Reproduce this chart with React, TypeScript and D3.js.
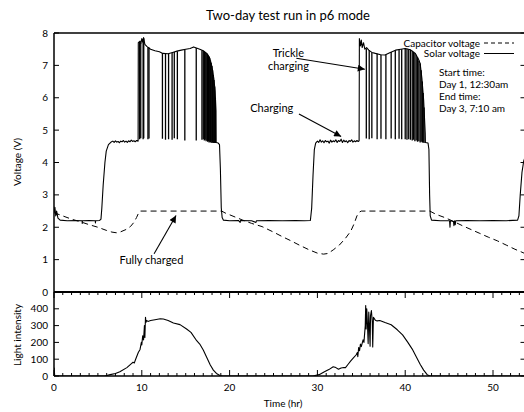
import React from "react";
import * as d3 from "d3";

// ---------- DATA ----------
const title = "Two-day test run in p6 mode";
const timeDomain: [number, number] = [0, 53.7];
const voltageTicks = [0, 1, 2, 3, 4, 5, 6, 7, 8];
const lightTicks = [0, 100, 200, 300, 400];
const timeMajorTicks = [0, 10, 20, 30, 40, 50];
const timeMinorTicks = d3.range(0, 54, 1);

// Solar voltage [hr, V]
const solarVoltage: [number, number][] = [
  [0, 2.45], [0.1, 2.62], [0.2, 2.35], [0.3, 2.5], [0.45, 2.28], [0.7, 2.22], [1.5, 2.2], [2.5, 2.21],
  [3.2, 2.2], [3.22, 2.12], [3.24, 2.2], [4.0, 2.21], [4.7, 2.2], [4.72, 2.13], [4.74, 2.2], [5.2, 2.21],
  [5.35, 2.25], [5.45, 2.6], [5.6, 3.3], [5.8, 4.0], [5.95, 4.35], [6.2, 4.55],
  [6.5, 4.63], [6.7, 4.66], [6.85, 4.62], [7.0, 4.67], [7.15, 4.63], [7.3, 4.65], [7.45, 4.61], [7.6, 4.66],
  [7.75, 4.64], [7.9, 4.68], [8.05, 4.63], [8.2, 4.66], [8.35, 4.62], [8.5, 4.67], [8.65, 4.64], [8.8, 4.69],
  [8.95, 4.65], [9.1, 4.67], [9.25, 4.64], [9.4, 4.68], [9.58, 4.66],
  [9.6, 7.7], [9.8, 7.75], [9.9, 7.68], [10.0, 7.83], [10.1, 7.72], [10.2, 7.86], [10.35, 7.65], [10.6, 7.58],
  [11.0, 7.5], [11.5, 7.45], [12.0, 7.42], [12.4, 7.37], [13.0, 7.36], [13.5, 7.4], [14.0, 7.44], [14.5, 7.47],
  [15.0, 7.5], [15.5, 7.52], [15.9, 7.57], [16.3, 7.53], [16.6, 7.5], [17.0, 7.45], [17.4, 7.37], [17.7, 7.25],
  [18.0, 6.95], [18.2, 6.6], [18.35, 6.2], [18.45, 5.6], [18.47, 4.62], [18.7, 4.6], [18.85, 4.55],
  [18.95, 3.8], [19.05, 2.6], [19.15, 2.3], [19.3, 2.22], [20.0, 2.2], [21.0, 2.21], [21.2, 2.15], [21.25, 2.21],
  [22.5, 2.2], [23.0, 2.15], [23.05, 2.2], [24.5, 2.21], [26.0, 2.2], [27.5, 2.21], [28.5, 2.2], [29.2, 2.21],
  [29.35, 2.6], [29.5, 3.6], [29.65, 4.4],
  [29.8, 4.6], [30.0, 4.66], [30.15, 4.62], [30.3, 4.7], [30.45, 4.63], [30.6, 4.67], [30.75, 4.61], [30.9, 4.68],
  [31.05, 4.64], [31.2, 4.66], [31.35, 4.6], [31.5, 4.69], [31.65, 4.63], [31.8, 4.67], [31.95, 4.64], [32.1, 4.7],
  [32.25, 4.62], [32.4, 4.68], [32.55, 4.65], [32.7, 4.72], [32.85, 4.62], [33.0, 4.69], [33.15, 4.64], [33.3, 4.67],
  [33.45, 4.61], [33.6, 4.68], [33.75, 4.65], [33.9, 4.7], [34.05, 4.63], [34.2, 4.67], [34.35, 4.64], [34.5, 4.68],
  [34.65, 4.65], [34.75, 4.67],
  [34.78, 7.83], [34.9, 7.6], [35.0, 7.78], [35.1, 7.55], [35.25, 7.7], [35.4, 7.5], [35.6, 7.55], [35.85, 7.47],
  [36.2, 7.4], [36.6, 7.37], [37.2, 7.33], [37.7, 7.32], [38.3, 7.4], [38.9, 7.47], [39.5, 7.5], [40.0, 7.52],
  [40.6, 7.48], [41.15, 7.37], [41.5, 7.2], [41.7, 7.06], [41.9, 6.6], [42.1, 5.93], [42.28, 4.9], [42.3, 4.62],
  [42.6, 4.6], [42.7, 4.4], [42.78, 3.0], [42.85, 2.35], [43.0, 2.22], [44.0, 2.2], [45.05, 2.2], [45.1, 2.0],
  [45.15, 2.2], [45.5, 2.18], [45.55, 2.05], [45.6, 2.2], [45.7, 2.08], [45.75, 2.2], [47.0, 2.21], [48.5, 2.2],
  [50.0, 2.21], [51.5, 2.2], [52.8, 2.22], [52.95, 2.35], [53.1, 3.0], [53.3, 3.7], [53.5, 4.05], [53.7, 4.2],
];

// Trickle-charging dropouts [hr, top V, bottom V]
const trickleDrops: [number, number, number][] = [
  [9.75, 7.72, 4.72], [9.88, 7.7, 4.75], [10.15, 7.8, 4.72], [10.22, 7.84, 4.75], [10.7, 7.56, 4.72],
  [10.82, 7.55, 4.74], [12.35, 7.38, 4.73], [12.7, 7.37, 4.7], [13.05, 7.36, 4.72], [13.45, 7.39, 4.7],
  [13.7, 7.41, 4.75], [14.05, 7.44, 4.72], [14.9, 7.49, 4.68], [16.2, 7.54, 4.68], [16.85, 7.47, 4.7],
  [17.0, 7.45, 4.72], [17.12, 7.43, 4.68], [17.22, 7.41, 4.7], [17.32, 7.38, 4.66], [17.42, 7.36, 4.68],
  [17.5, 7.33, 4.64], [17.58, 7.3, 4.66], [17.66, 7.27, 4.62], [17.74, 7.22, 4.64], [17.82, 7.15, 4.62],
  [17.9, 7.08, 4.64], [17.98, 6.98, 4.6], [18.06, 6.85, 4.62], [18.14, 6.7, 4.6], [18.22, 6.55, 4.62],
  [18.3, 6.35, 4.6], [18.38, 6.0, 4.6],
  [35.57, 7.52, 4.74], [35.9, 7.47, 4.72], [36.2, 7.4, 4.75], [36.8, 7.36, 4.72], [37.24, 7.33, 4.73],
  [37.8, 7.33, 4.72], [38.4, 7.41, 4.74], [38.87, 7.47, 4.72], [39.3, 7.49, 4.73], [39.6, 7.5, 4.72],
  [40.0, 7.52, 4.72], [40.2, 7.51, 4.7], [40.4, 7.5, 4.72], [40.6, 7.48, 4.7], [40.8, 7.45, 4.68],
  [40.95, 7.42, 4.7], [41.1, 7.38, 4.66], [41.25, 7.33, 4.68], [41.4, 7.25, 4.64], [41.55, 7.15, 4.66],
  [41.7, 7.06, 4.62], [41.82, 6.85, 4.64], [41.95, 6.5, 4.62], [42.05, 6.15, 4.62], [42.15, 5.7, 4.6],
];

// Capacitor voltage [hr, V]
const capacitorVoltage: [number, number][] = [
  [0, 2.45], [1, 2.35], [2, 2.25], [3, 2.17], [4, 2.08], [5, 2.0], [6, 1.9], [6.6, 1.85], [7.1, 1.83],
  [7.6, 1.86], [8.2, 1.93], [8.7, 2.02], [9.1, 2.15], [9.4, 2.3], [9.6, 2.42], [9.8, 2.5], [19.1, 2.5],
  [19.5, 2.44], [20.5, 2.33], [21.5, 2.22], [22.5, 2.12], [23.7, 2.02], [25, 1.85], [26, 1.71], [27, 1.58],
  [28, 1.44], [29, 1.31], [30, 1.2], [30.7, 1.17], [31.2, 1.19], [31.8, 1.3], [32.5, 1.45], [33.2, 1.66],
  [33.8, 1.88], [34.2, 2.12], [34.5, 2.35], [34.8, 2.47], [35.0, 2.5], [42.8, 2.5], [43.5, 2.4], [44.5, 2.3],
  [45.5, 2.18], [46.5, 2.05], [47.5, 1.93], [48.5, 1.81], [49.5, 1.69], [50.5, 1.58], [51.5, 1.45],
  [52.5, 1.32], [53.2, 1.24], [53.7, 1.18],
];

// Light intensity [hr, value]
const lightIntensity: [number, number][] = [
  [0, 0], [0.02, 48], [0.08, 0], [5.8, 0], [6.4, 8], [7, 15], [7.5, 25], [8.3, 50], [8.85, 75], [9.0, 82],
  [9.15, 78], [9.3, 100], [9.6, 140], [9.8, 158], [9.95, 200], [10.0, 185], [10.1, 240], [10.2, 215],
  [10.3, 300], [10.35, 230], [10.42, 350], [10.48, 320], [10.55, 330], [10.7, 325], [11.0, 330], [11.5, 335],
  [12.1, 341], [12.45, 339], [13.0, 330], [13.6, 315], [14.35, 306], [15.1, 280], [15.6, 260], [16.25, 210],
  [16.6, 190], [17.0, 155], [17.4, 110], [17.8, 65], [18.15, 35], [18.5, 15], [18.9, 3], [19.2, 0],
  [29.5, 0], [30.2, 8], [30.8, 25], [31.3, 38], [31.8, 55], [32.1, 50], [32.4, 40], [32.7, 48], [33.0, 51],
  [33.2, 50], [33.5, 70], [33.8, 90], [34.1, 108], [34.4, 125], [34.55, 140], [34.6, 115], [34.7, 170],
  [34.8, 150], [34.9, 190], [35.0, 175], [35.2, 215], [35.3, 200], [35.45, 300], [35.5, 420], [35.55, 280],
  [35.62, 400], [35.7, 310], [35.78, 193], [35.85, 380], [35.92, 300], [36.0, 177], [36.05, 360],
  [36.15, 390], [36.25, 320], [36.3, 173], [36.38, 350], [36.5, 340], [36.6, 332], [36.8, 328], [37.1, 330],
  [37.7, 318], [38.4, 305], [39.1, 275], [39.7, 245], [40.3, 200], [40.8, 160], [41.3, 110], [41.7, 70],
  [42.1, 35], [42.5, 8], [42.8, 0], [53.7, 0],
];

const legendItems = [
  { label: "Capacitor voltage", dashed: true },
  { label: "Solar voltage", dashed: false },
];
const infoLines = ["Start time:", "Day 1, 12:30am", "End time:", "Day 3, 7:10 am"];

// Annotations: text anchor in data units, arrow from/to in data units
const annotations = [
  { lines: ["Trickle", "charging"], t: 26.7, v: 7.25, from: [27.6, 7.22], to: [35.4, 6.88] },
  { lines: ["Charging"], t: 24.8, v: 5.55, from: [27.9, 5.5], to: [32.7, 4.8] },
  { lines: ["Fully charged"], t: 11.1, v: 0.85, from: [11.4, 1.18], to: [13.9, 2.36] },
];

// ---------- CHART ----------
const FONT = "Lato, 'Open Sans', sans-serif";

export default function App() {
  const left = 54, right = 525.5, top = 33, mid = 292, bottom = 376;
  const x = d3.scaleLinear().domain(timeDomain).range([left, right]);
  const yV = d3.scaleLinear().domain([0, 8]).range([mid, top]);
  const yL = d3.scaleLinear().domain([0, 500]).range([bottom, mid]);

  const lineV = d3.line<[number, number]>().x((d) => x(d[0])).y((d) => yV(d[1]));
  const lineL = d3.line<[number, number]>().x((d) => x(d[0])).y((d) => yL(d[1]));

  return (
    <svg width={524} height={412} style={{ position: "absolute", left: 0, top: 0, background: "#fff" }}
      fontFamily={FONT}>
      <defs>
        <marker id="ah" viewBox="0 0 10 10" refX="10" refY="5" markerWidth="9" markerHeight="7"
          markerUnits="userSpaceOnUse" orient="auto">
          <path d="M0,0 L10,5 L0,10 z" fill="#000" />
        </marker>
        <clipPath id="clipTop">
          <rect x={left} y={top} width={right - left} height={mid - top} />
        </clipPath>
        <clipPath id="clipBot">
          <rect x={left} y={mid} width={right - left} height={bottom - mid} />
        </clipPath>
      </defs>

      <text x={288} y={19.5} fontSize={13} textAnchor="middle">{title}</text>

      {/* data top */}
      <g clipPath="url(#clipTop)">
        <path d={lineV(capacitorVoltage) || ""} fill="none" stroke="#000" strokeWidth={1} strokeDasharray="6,4" />
        <path d={lineV(solarVoltage) || ""} fill="none" stroke="#000" strokeWidth={1.1} strokeLinejoin="round" />
        {trickleDrops.map((d, i) => (
          <line key={i} x1={x(d[0])} x2={x(d[0])} y1={yV(d[1])} y2={yV(d[2])} stroke="#000" strokeWidth={1.3} />
        ))}
      </g>

      {/* data bottom */}
      <g clipPath="url(#clipBot)">
        <path d={lineL(lightIntensity) || ""} fill="none" stroke="#000" strokeWidth={1.1} strokeLinejoin="round" />
      </g>

      {/* frames */}
      <g stroke="#000" fill="none">
        <line x1={left} x2={right} y1={top} y2={top} strokeWidth={1.3} />
        <line x1={left} x2={right} y1={mid} y2={mid} strokeWidth={2} />
        <line x1={left} x2={right} y1={bottom} y2={bottom} strokeWidth={1.3} />
        <line x1={left} x2={left} y1={top} y2={bottom} strokeWidth={1.5} />
        <line x1={right} x2={right} y1={top} y2={bottom} strokeWidth={1.3} />
      </g>

      {/* ticks */}
      <g stroke="#000" strokeWidth={1}>
        {voltageTicks.map((v) => (
          <g key={v}>
            <line x1={left} x2={left + 5} y1={yV(v)} y2={yV(v)} />
            <line x1={right} x2={right - 5} y1={yV(v)} y2={yV(v)} />
          </g>
        ))}
        {lightTicks.map((v) => (
          <g key={v}>
            <line x1={left} x2={left + 5} y1={yL(v)} y2={yL(v)} />
            <line x1={right} x2={right - 5} y1={yL(v)} y2={yL(v)} />
          </g>
        ))}
        {timeMinorTicks.map((t) => {
          const major = timeMajorTicks.includes(t);
          const len = major ? 6 : 3;
          return (
            <g key={t}>
              <line x1={x(t)} x2={x(t)} y1={bottom} y2={bottom - len} />
              <line x1={x(t)} x2={x(t)} y1={mid} y2={mid + len} />
            </g>
          );
        })}
      </g>

      {/* tick labels */}
      <g fontSize={10} fill="#000">
        {voltageTicks.map((v) => (
          <text key={v} x={48} y={yV(v) + 3.6} textAnchor="end">{v}</text>
        ))}
        {lightTicks.map((v) => (
          <text key={v} x={48} y={yL(v) + 3.6} textAnchor="end">{v}</text>
        ))}
        {timeMajorTicks.map((t) => (
          <text key={t} x={x(t)} y={391} textAnchor="middle">{t}</text>
        ))}
      </g>

      {/* axis titles */}
      <text x={283} y={407} fontSize={10} textAnchor="middle">Time (hr)</text>
      <text transform={`translate(21,162) rotate(-90)`} fontSize={10} textAnchor="middle">Voltage (V)</text>
      <text transform={`translate(21,335) rotate(-90)`} fontSize={10} textAnchor="middle">Light intensity</text>

      {/* legend */}
      {legendItems.map((it, i) => {
        const ly = 43 + i * 10.5;
        return (
          <g key={it.label}>
            <text x={480} y={ly + 3.5} fontSize={10} textAnchor="end">{it.label}</text>
            <line x1={484} x2={514} y1={ly} y2={ly} stroke="#000" strokeWidth={1}
              strokeDasharray={it.dashed ? "4,3" : undefined} />
          </g>
        );
      })}

      {/* info */}
      {infoLines.map((s, i) => (
        <text key={s} x={439} y={75.5 + i * 12.3} fontSize={10}>{s}</text>
      ))}

      {/* annotations */}
      {annotations.map((a, i) => (
        <g key={i}>
          {a.lines.map((s, j) => (
            <text key={s} x={x(a.t)} y={yV(a.v) + j * 12.5} fontSize={11} textAnchor="middle">{s}</text>
          ))}
          <line x1={x(a.from[0])} y1={yV(a.from[1])} x2={x(a.to[0])} y2={yV(a.to[1])}
            stroke="#000" strokeWidth={1.1} markerEnd="url(#ah)" />
        </g>
      ))}
    </svg>
  );
}
